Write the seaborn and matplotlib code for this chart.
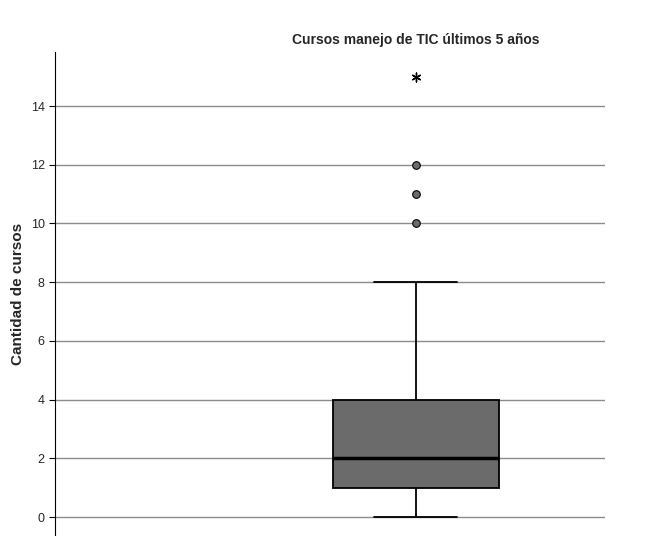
import numpy as np
import pandas as pd
import seaborn as sns
import matplotlib
matplotlib.use("Agg")
import matplotlib.pyplot as plt

cursos = [0,0,0,1,1,1,1,1,2,2,2,2,2,3,3,3,4,4,4,6,8,10,11,12,15]
yticks = [0, 2, 4, 6, 8, 10, 12, 14]
title = "Cursos manejo de TIC últimos 5 años"
ylabel = "Cantidad de cursos"

df = pd.DataFrame({"g": 0, "cursos": cursos})
sns.set_style("white")
plt.rcParams['font.family'] = ['Liberation Sans', 'DejaVu Sans']

fig = plt.figure(figsize=(6.47, 5.36), dpi=100)
ax = fig.add_axes([0.085, 0.002, 0.85, 0.901])
ax.set_axisbelow(True)
for t in yticks:
    ax.axhline(t, color="#8c8c8c", lw=1, zorder=0)

sns.boxplot(data=df, x="g", y="cursos", ax=ax, color="#6b6b6b", width=0.8,
            showfliers=False, linecolor="black", linewidth=1.3,
            medianprops=dict(color="black", linewidth=2.5), saturation=1)

v = np.array(cursos)
q1, q3 = np.percentile(v, [25, 75])
iqr = q3 - q1
mild = v[(v > q3 + 1.5*iqr) & (v <= q3 + 3*iqr)]
ext = v[v > q3 + 3*iqr]
ax.scatter(np.zeros(len(mild)), mild, s=30, color="#6b6b6b", edgecolor="black", lw=0.8, zorder=5)
ax.scatter(np.zeros(len(ext)), ext, s=40, marker=(6, 2, 0), color="black", lw=1, zorder=5)

ax.set_xlim(-1.739, 0.911)
ax.set_ylim(-0.61, 15.84)
ax.set_yticks(yticks)
ax.set_xticks([])
ax.set_xlabel("")
ax.set_ylabel(ylabel, fontsize=11, fontweight="bold")
ax.tick_params(axis="y", labelsize=9, left=True, length=4, color="black")
for s in ["top", "right", "bottom"]:
    ax.spines[s].set_visible(False)
ax.spines["left"].set_color("black")
fig.text(416/647, 1 - 40/536, title, ha="center", va="center", fontsize=10, fontweight="bold")
fig.savefig("out.png", dpi=100)
